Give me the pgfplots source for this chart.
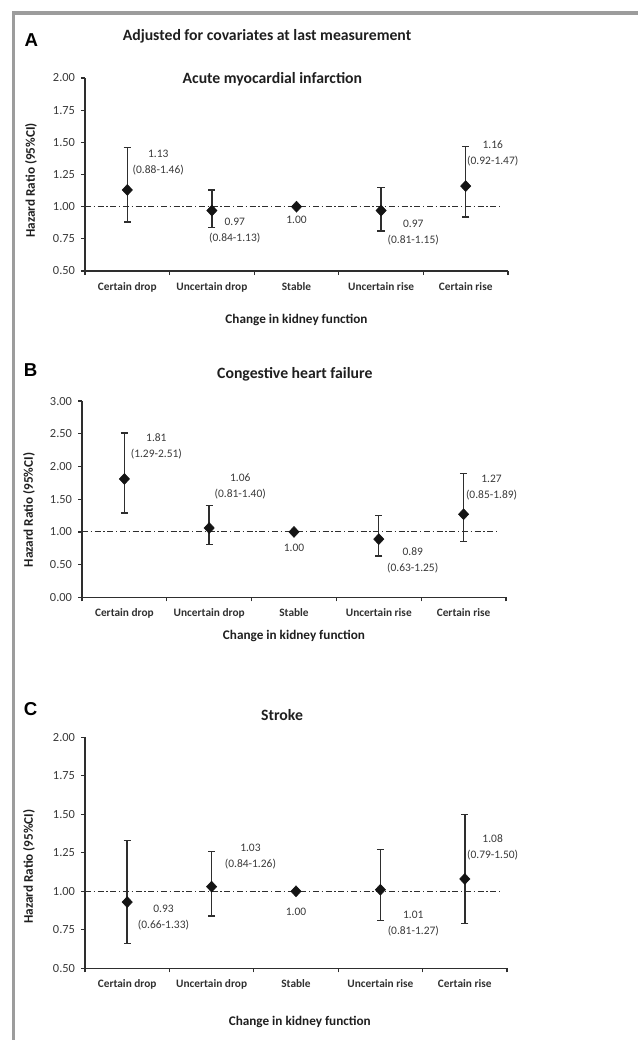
\documentclass[border=0pt]{standalone}
\usepackage{fontspec}
\setmainfont{Carlito}
\newfontfamily\letterfont{Liberation Sans}
\usepackage{pgfplots}
\pgfplotsset{compat=1.18}

\definecolor{ink}{HTML}{2E2E2E}
\definecolor{txt}{HTML}{383838}
\definecolor{frame}{HTML}{9C9C9C}

\newcommand\tickfont{\fontsize{9.3}{11}\selectfont}
\newcommand\catfont{\bfseries\fontsize{8.5}{10}\selectfont}
\newcommand\labfont{\bfseries\fontsize{9.9}{11}\selectfont}
\newcommand\ttlfont{\bfseries\fontsize{11.8}{13}\selectfont}

\tikzset{
  lbl/.style={font=\fontsize{8.6}{12}\selectfont, text=txt, align=center},
  panelletter/.style={font=\letterfont\bfseries\fontsize{14}{16}\selectfont},
}

\pgfplotsset{
  panel/.style={
    scale only axis, anchor=south west, clip=false,
    xmin=0.5, xmax=5.5,
    axis x line*=bottom, axis y line*=left,
    axis line style={ink, line width=1pt},
    tick align=outside, major tick length=3pt,
    tick style={ink, line width=0.9pt},
    xtick={0.5,1.5,...,5.5}, xticklabels={},
    extra x ticks={1,2,3,4,5},
    extra x tick labels={Certain drop,Uncertain drop,Stable,Uncertain rise,Certain rise},
    extra x tick style={major tick length=0pt,
      tick label style={font=\catfont, text=txt!85!black, yshift=-5pt}},
    yticklabel style={font=\tickfont, text=txt, xshift=-1pt,
      /pgf/number format/fixed, /pgf/number format/fixed zerofill,
      /pgf/number format/precision=2, /pgf/number format/assume math mode=true},
  },
  hr/.style={only marks, mark=diamond*, mark size=4.1pt,
    mark options={xscale=1.25, fill=black!92, draw=black!92},
    error bars/.cd, y dir=both, y explicit, error mark=-,
    error bar style={ink, line width=1.05pt},
    error mark options={ink, line width=1.05pt, mark size=2.7pt, rotate=90}},
  refline/.style={ink, line width=0.8pt, dash pattern=on 4.6pt off 1.9pt on 1.1pt off 1.9pt},
}

\begin{document}
\begin{tikzpicture}
\useasboundingbox (0,0) rectangle (478.5pt,-780pt);
% outer frame
\draw[frame, line width=2.3pt] (10.1pt,-790pt) -- (10.1pt,-9.75pt) -- (490pt,-9.75pt);

\node[panelletter] at (23.5pt,-30pt) {A};
\node[panelletter] at (23pt,-277.5pt) {B};
\node[panelletter] at (23pt,-531.75pt) {C};
\node[font=\ttlfont, text=black!88] at (200.25pt,-27pt) {Adjusted for covariates at last measurement};

% ---------------- A: acute myocardial infarction ----------------
\begin{axis}[panel, at={(63.75pt,-203.25pt)}, width=317.25pt, height=144.75pt,
  ymin=0.5, ymax=2, ytick={0.5,0.75,1,1.25,1.5,1.75,2}]
\addplot[refline] coordinates {(0.5,1) (5.44,1)};
\addplot[hr] table[x=x, y=hr,
  y error plus expr=\thisrow{hi}-\thisrow{hr},
  y error minus expr=\thisrow{hr}-\thisrow{lo}] {
x hr   lo   hi
1 1.13 0.88 1.46
2 0.97 0.84 1.13
3 1.00 1.00 1.00
4 0.97 0.81 1.15
5 1.16 0.92 1.47
};
\node[lbl] at (axis cs:1.366,1.339) {1.13\\(0.88-1.46)};
\node[lbl] at (axis cs:2.27,0.811) {0.97\\(0.84-1.13)};
\node[lbl] at (axis cs:3,0.896) {1.00};
\node[lbl] at (axis cs:4.38,0.799) {0.97\\(0.81-1.15)};
\node[lbl] at (axis cs:5.32,1.417) {1.16\\(0.92-1.47)};
\node[font=\ttlfont, text=black!88] at (axis description cs:0.443,0.995) {Acute myocardial infarction};
\node[font=\labfont, text=black!88] at (axis description cs:0.5,-0.254) {Change in kidney function};
\node[font=\labfont, text=black!88, rotate=90] at (axis description cs:-0.128,0.47) {Hazard Ratio (95\%CI)};
\end{axis}

% ---------------- B: congestive heart failure ----------------
\begin{axis}[panel, at={(61.5pt,-448pt)}, width=318pt, height=147.2pt,
  ymin=0, ymax=3, ytick={0,0.5,1,1.5,2,2.5,3}]
\addplot[refline] coordinates {(0.5,1) (5.42,1)};
\addplot[hr] table[x=x, y=hr,
  y error plus expr=\thisrow{hi}-\thisrow{hr},
  y error minus expr=\thisrow{hr}-\thisrow{lo}] {
x hr   lo   hi
1 1.81 1.29 2.51
2 1.06 0.81 1.40
3 1.00 1.00 1.00
4 0.89 0.63 1.25
5 1.27 0.85 1.89
};
\node[lbl] at (axis cs:1.377,2.30) {1.81\\(1.29-2.51)};
\node[lbl] at (axis cs:2.366,1.70) {1.06\\(0.81-1.40)};
\node[lbl] at (axis cs:3,0.75) {1.00};
\node[lbl] at (axis cs:4.40,0.566) {0.89\\(0.63-1.25)};
\node[lbl] at (axis cs:5.33,1.68) {1.27\\(0.85-1.89)};
\node[font=\ttlfont, text=black!88] at (axis description cs:0.502,1.138) {Congestive heart failure};
\node[font=\labfont, text=black!88] at (axis description cs:0.5,-0.197) {Change in kidney function};
\node[font=\labfont, text=black!88, rotate=90] at (axis description cs:-0.125,0.445) {Hazard Ratio (95\%CI)};
\end{axis}

% ---------------- C: stroke ----------------
\begin{axis}[panel, at={(63.75pt,-726.2pt)}, width=316.5pt, height=173.25pt,
  ymin=0.5, ymax=2, ytick={0.5,0.75,1,1.25,1.5,1.75,2}]
\addplot[refline] coordinates {(0.5,1) (5.44,1)};
\addplot[hr] table[x=x, y=hr,
  y error plus expr=\thisrow{hi}-\thisrow{hr},
  y error minus expr=\thisrow{hr}-\thisrow{lo}] {
x hr   lo   hi
1 0.93 0.66 1.33
2 1.03 0.84 1.26
3 1.00 1.00 1.00
4 1.01 0.81 1.27
5 1.08 0.79 1.50
};
\node[lbl] at (axis cs:1.43,0.827) {0.93\\(0.66-1.33)};
\node[lbl] at (axis cs:2.46,1.225) {1.03\\(0.84-1.26)};
\node[lbl] at (axis cs:3,0.864) {1.00};
\node[lbl] at (axis cs:4.39,0.792) {1.01\\(0.81-1.27)};
\node[lbl] at (axis cs:5.33,1.283) {1.08\\(0.79-1.50)};
\node[font=\ttlfont, text=black!88] at (axis description cs:0.467,1.097) {Stroke};
\node[font=\labfont, text=black!88] at (axis description cs:0.509,-0.234) {Change in kidney function};
\node[font=\labfont, text=black!88, rotate=90] at (axis description cs:-0.133,0.44) {Hazard Ratio (95\%CI)};
\end{axis}
\end{tikzpicture}
\end{document}
